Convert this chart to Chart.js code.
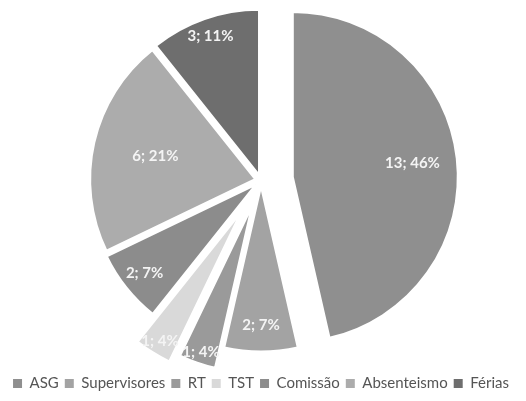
<!DOCTYPE html>
<html><head><meta charset="utf-8">
<script src="https://cdn.jsdelivr.net/npm/chart.js@4"></script>
<style>
html,body{margin:0;padding:0;background:#fff;overflow:hidden;width:526px;height:401px}
#wrap{position:absolute;left:0;top:-9px;width:526px;height:410px}
</style>
</head><body>
<div id="wrap"><canvas id="c" width="526" height="410"></canvas></div>
<script>
const categories = ['ASG', 'Supervisores', 'RT', 'TST', 'Comissão', 'Absenteismo', 'Férias'];
const values = [13, 2, 1, 1, 2, 6, 3];
const colors = ['#8f8f8f', '#a3a3a3', '#9a9a9a', '#d9d9d9', '#8c8c8c', '#acacac', '#6e6e6e'];
const explode = [32, 6, 28, 38, 7, 6, 6];
const labelFrac = [0.73, 0.84, 0.93, 0.92, 0.86, 0.62, 0.89];

const total = values.reduce((a, b) => a + b, 0);

const explodePlugin = {
  id: 'explode',
  beforeDatasetDraw(chart, args, opts) {
    const ctx = chart.ctx;
    args.meta.data.forEach((arc, i) => {
      const mid = (arc.startAngle + arc.endAngle) / 2;
      const d = opts.distances[i] || 0;
      ctx.save();
      ctx.translate(Math.cos(mid) * d, Math.sin(mid) * d);
      arc.draw(ctx);
      ctx.restore();
    });
    return false;
  },
  afterDatasetsDraw(chart, args, opts) {
    const ctx = chart.ctx;
    const meta = chart.getDatasetMeta(0);
    ctx.save();
    ctx.font = 'bold 15px Lato, "Open Sans", sans-serif';
    ctx.fillStyle = '#f4f4f4';
    ctx.textAlign = 'center';
    ctx.textBaseline = 'middle';
    meta.data.forEach((arc, i) => {
      const mid = (arc.startAngle + arc.endAngle) / 2;
      const r = opts.fractions[i] * arc.outerRadius + (opts.distances[i] || 0);
      const x = arc.x + Math.cos(mid) * r;
      const y = arc.y + Math.sin(mid) * r;
      const pct = Math.round(values[i] / total * 100);
      ctx.fillText(values[i] + '; ' + pct + '%', x, y);
    });
    ctx.restore();
  }
};

new Chart(document.getElementById('c'), {
  type: 'pie',
  data: {
    labels: categories,
    datasets: [{
      data: values,
      backgroundColor: colors,
      borderColor: '#ffffff',
      borderWidth: 2
    }]
  },
  options: {
    responsive: false,
    animation: false,
    radius: 165,
    layout: { padding: { left: 0, right: 4, top: 0, bottom: 0 } },
    plugins: {
      tooltip: { enabled: false },
      explode: { distances: explode, fractions: labelFrac },
      legend: {
        position: 'bottom',
        labels: {
          boxWidth: 9,
          boxHeight: 9,
          padding: 6,
          color: '#555555',
          font: { family: 'Lato, "Open Sans", sans-serif', size: 15 },
          generateLabels(chart) {
            const items = Chart.overrides.pie.plugins.legend.labels.generateLabels(chart);
            items.forEach(it => { it.lineWidth = 0; it.strokeStyle = it.fillStyle; });
            return items;
          }
        }
      }
    }
  },
  plugins: [explodePlugin]
});
</script>
</body></html>
